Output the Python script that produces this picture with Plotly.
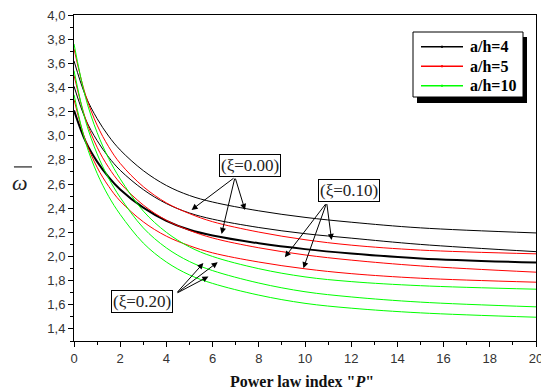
import plotly.graph_objects as go

# Power law index values
P = [0, 0.5, 1, 1.5, 2, 3, 4, 5, 6, 8, 10, 12, 15, 20]

# a/h = 4 (black)
ah4_xi00 = [3.62, 3.330, 3.142, 2.997, 2.882, 2.711, 2.588, 2.505, 2.451, 2.378, 2.324, 2.284, 2.237, 2.195]
ah4_xi10 = [3.41, 3.137, 2.960, 2.823, 2.714, 2.554, 2.438, 2.360, 2.309, 2.240, 2.189, 2.152, 2.100, 2.040]
ah4_xi20 = [3.21, 2.953, 2.786, 2.658, 2.555, 2.404, 2.295, 2.221, 2.173, 2.109, 2.061, 2.025, 1.984, 1.950]
# a/h = 5 (red)
ah5_xi00 = [3.72, 3.337, 3.088, 2.909, 2.771, 2.578, 2.444, 2.355, 2.288, 2.202, 2.139, 2.094, 2.053, 2.022]
ah5_xi10 = [3.50, 3.140, 2.905, 2.737, 2.608, 2.426, 2.300, 2.216, 2.153, 2.072, 2.013, 1.970, 1.922, 1.870]
ah5_xi20 = [3.30, 2.960, 2.739, 2.581, 2.459, 2.287, 2.168, 2.089, 2.030, 1.954, 1.898, 1.858, 1.820, 1.787]
# a/h = 10 (green)
ah10_xi00 = [3.76, 3.316, 3.027, 2.812, 2.643, 2.376, 2.200, 2.079, 2.000, 1.899, 1.831, 1.792, 1.758, 1.729]
ah10_xi10 = [3.54, 3.122, 2.850, 2.648, 2.489, 2.237, 2.071, 1.958, 1.883, 1.780, 1.708, 1.665, 1.622, 1.583]
ah10_xi20 = [3.34, 2.946, 2.689, 2.498, 2.348, 2.111, 1.954, 1.847, 1.777, 1.680, 1.612, 1.572, 1.533, 1.497]

legend_names = ["a/h=4", "a/h=5", "a/h=10"]
colors = ["black", "#ff0000", "#00ff00"]
groups = [[ah4_xi00, ah4_xi10, ah4_xi20], [ah5_xi00, ah5_xi10, ah5_xi20], [ah10_xi00, ah10_xi10, ah10_xi20]]
widths = [[1, 1, 2], [1, 1, 1], [1, 1, 1]]

fig = go.Figure()
for color, curves, ws in zip(colors, groups, widths):
    for ys, w in zip(curves, ws):
        fig.add_trace(go.Scatter(
            x=P, y=ys, mode="lines",
            line=dict(color=color, width=w, shape="spline", smoothing=1.0),
            showlegend=False, hoverinfo="x+y",
        ))

# Annotation boxes and arrows (data coordinates)
labels = ["(ξ=0.00)", "(ξ=0.10)", "(ξ=0.20)"]
label_x = [7.6, 11.9, 2.94]
label_y = [2.75, 2.543, 1.624]
tail_x = [6.97, 10.94, 4.42]
tail_y = [2.657, 2.446, 1.693]
tips_x = [[5.09, 7.40, 6.39], [9.13, 9.93, 11.15], [5.60, 6.22, 5.82]]
tips_y = [[2.386, 2.386, 2.187], [1.994, 1.903, 2.137], [1.945, 1.953, 1.834]]

for k in range(3):
    for tx, ty in zip(tips_x[k], tips_y[k]):
        fig.add_annotation(x=tx, y=ty, ax=tail_x[k], ay=tail_y[k], axref="x", ayref="y",
                           xref="x", yref="y", text="", showarrow=True,
                           arrowhead=2, arrowsize=1.2, arrowwidth=1, arrowcolor="black")
    fig.add_annotation(x=label_x[k], y=label_y[k], xref="x", yref="y", text=labels[k],
                       showarrow=False, bgcolor="white", bordercolor="black", borderwidth=1,
                       borderpad=1, font=dict(family="Liberation Serif", size=17, color="#222"))

# Y title: omega with overbar
fig.add_annotation(x=-0.117, y=0.485, xref="paper", yref="paper", text="<i>ω</i>",
                   xanchor="center", yanchor="middle",
                   showarrow=False, font=dict(family="Liberation Serif", size=22, color="#222"))
fig.add_shape(type="line", xref="paper", yref="paper", x0=-0.130, x1=-0.091, y0=0.534, y1=0.534,
              line=dict(color="#222", width=1.2))
# X title
fig.add_annotation(x=0.494, y=-0.123, xref="paper", yref="paper", xanchor="center", yanchor="middle",
                   text='<b>Power law index "<i>P</i>"</b>', showarrow=False,
                   font=dict(family="Liberation Serif", size=16, color="#111"))


# legend box drawn in paper coordinates (pixel positions)
def px(x):
    return (x - 74) / 462


def py(y):
    return (341 - y) / 326


fig.add_shape(type="rect", xref="paper", yref="paper", x0=px(417), x1=px(527), y0=py(103), y1=py(37),
              fillcolor="black", line=dict(width=0), layer="above")
fig.add_shape(type="rect", xref="paper", yref="paper", x0=px(413), x1=px(523), y0=py(97), y1=py(32),
              fillcolor="white", line=dict(color="black", width=1), layer="above")
row_y = [46.7, 66.3, 85.8]
for name, color, ry in zip(legend_names, colors, row_y):
    fig.add_shape(type="line", xref="paper", yref="paper", x0=px(421), x1=px(463), y0=py(ry), y1=py(ry),
                  line=dict(color=color, width=1.5), layer="above")
    fig.add_shape(type="rect", xref="paper", yref="paper", x0=px(441), x1=px(443),
                  y0=py(ry + 1), y1=py(ry - 1), fillcolor=color, line=dict(width=0), layer="above")
    fig.add_annotation(x=px(468), y=py(ry), xref="paper", yref="paper", xanchor="left", yanchor="middle",
                       text="<b>" + name + "</b>", showarrow=False,
                       font=dict(family="Liberation Serif", size=16, color="black"))

axis_common = dict(showline=True, linecolor="black", linewidth=1, mirror=True, automargin=False,
                   ticks="outside", ticklen=5, tickcolor="black", showgrid=False, zeroline=False,
                   ticklabeloverflow="allow",
                   tickfont=dict(family="Liberation Sans", size=13, color="#333"))
fig.update_xaxes(range=[0, 20], tick0=0, dtick=2, tickformat="d",
                 minor=dict(dtick=1, ticks="outside", ticklen=3, tickcolor="black"), **axis_common)
fig.update_yaxes(range=[1.3, 4.0], tick0=0, dtick=0.2, tickformat=".1f",
                 minor=dict(dtick=0.1, ticks="outside", ticklen=3, tickcolor="black"), **axis_common)

fig.update_layout(
    width=541, height=391,
    margin=dict(l=74, r=5, t=15, b=50, autoexpand=False),
    paper_bgcolor="white", plot_bgcolor="white",
    separators=", ",
    showlegend=False,
)

fig.write_html("out.html", config={"displayModeBar": False},
               post_script="document.body.style.margin='0';document.body.style.overflow='hidden';")
